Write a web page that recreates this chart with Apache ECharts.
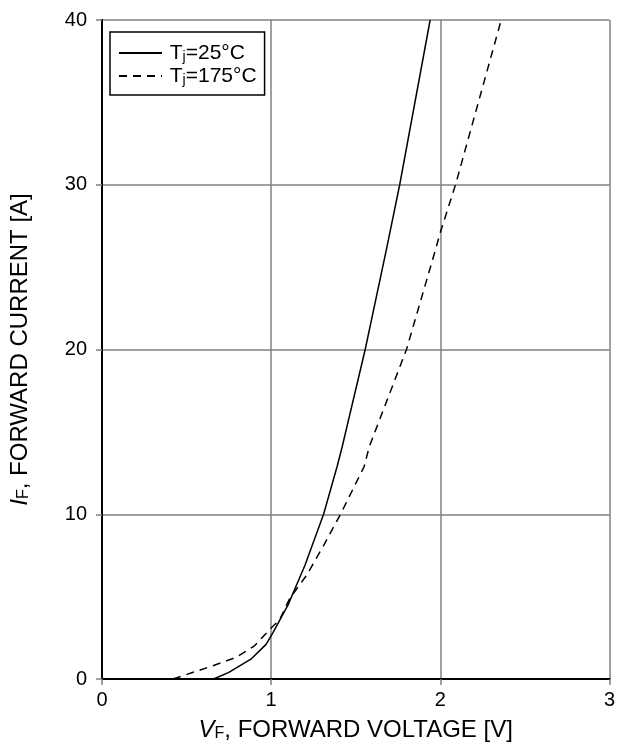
<!DOCTYPE html>
<html><head><meta charset="utf-8">
<script src="https://cdn.jsdelivr.net/npm/echarts@6/dist/echarts.min.js"></script>
<style>html,body{margin:0;padding:0;background:#fff}#c{width:618px;height:747px}</style>
</head><body><div id="c"></div>
<script>
const xTicks = [0, 1, 2, 3];
const yTicks = [0, 10, 20, 30, 40];
const vf25 = [0.66, 0.75, 0.88, 0.97, 1.01, 1.10, 1.20, 1.31, 1.39, 1.42, 1.556, 1.68, 1.76, 1.94];
const if25 = [0, 0.4, 1.2, 2.1, 2.8, 4.5, 6.9, 10, 12.9, 14.1, 20, 26, 30, 40];
const vf175 = [0.42, 0.64, 0.79, 0.90, 1.0, 1.05, 1.11, 1.21, 1.31, 1.41, 1.55, 1.58, 1.80, 1.97, 2.0, 2.09, 2.36];
const if175 = [0, 0.75, 1.3, 2.0, 3.1, 3.6, 4.9, 6.3, 8.1, 10, 12.9, 14.1, 20, 26, 27.1, 30, 40];
const seriesNames = ['Tj=25°C', 'Tj=175°C'];
const legendRich = {'Tj=25°C': '{p| }{a|T}{s|j}{a|=25°C}', 'Tj=175°C': '{p| }{a|T}{s|j}{a|=175°C}'};

const font = 'Liberation Sans, Arial, sans-serif';
const chart = echarts.init(document.getElementById('c'));
const pair = (xs, ys) => xs.map((x, i) => [x, ys[i]]);
const gridCol = '#808080';
const titleRich = {
  i: {fontFamily: font, fontSize: 24, fontStyle: 'italic', color: '#000'},
  s: {fontFamily: font, fontSize: 16, color: '#000', verticalAlign: 'bottom', padding: [8, 0, 0, 0]},
  n: {fontFamily: font, fontSize: 24, color: '#000'}
};
chart.setOption({
  animation: false,
  grid: {left: 100, right: 7, top: 20, bottom: 63, show: false},
  legend: {
    left: 110, top: 32, orient: 'vertical',
    data: seriesNames,
    borderColor: '#000', borderWidth: 1.5, borderRadius: 0,
    padding: [9, 8, 8, 8], itemGap: 0, itemWidth: 43, itemHeight: 22,
    itemStyle: {opacity: 0},
    formatter: n => legendRich[n],
    textStyle: {
      fontFamily: font, color: '#000',
      rich: {p: {fontSize: 10, lineHeight: 22, fontFamily: font},
             a: {fontSize: 21, lineHeight: 22, fontFamily: font, color: '#000'},
             s: {fontSize: 14, lineHeight: 22, fontFamily: font, color: '#000', verticalAlign: 'bottom', padding: [9, 0, 0, 0]}}
    }
  },
  xAxis: [{
    type: 'value', min: 0, max: 3, interval: 1,
    axisLine: {show: true, lineStyle: {color: '#000', width: 2}},
    axisTick: {show: true, length: 6, lineStyle: {color: gridCol, width: 1.5}},
    splitLine: {show: true, lineStyle: {color: gridCol, width: 1.5}},
    axisLabel: {fontFamily: font, fontSize: 20, color: '#000', margin: 11,
      formatter: v => xTicks.includes(v) ? String(v) : ''},
    name: '{i|V}{s|F}{n|, FORWARD VOLTAGE [V]}', nameLocation: 'middle', nameGap: 39,
    nameTextStyle: {rich: titleRich}
  }, {
    type: 'value', min: 0, max: 3, interval: 1, position: 'top',
    axisLine: {show: true, lineStyle: {color: '#000', width: 2}},
    axisTick: {show: false}, axisLabel: {show: false}, splitLine: {show: false}
  }],
  yAxis: [{
    type: 'value', min: 0, max: 40, interval: 10,
    axisLine: {show: true, lineStyle: {color: '#000', width: 2}},
    axisTick: {show: true, length: 6, lineStyle: {color: gridCol, width: 1.5}},
    splitLine: {show: true, lineStyle: {color: gridCol, width: 1.5}},
    axisLabel: {fontFamily: font, fontSize: 20, color: '#000', margin: 15,
      formatter: v => yTicks.includes(v) ? String(v) : ''},
    name: '{i|I}{s|F}{n|, FORWARD CURRENT [A]}', nameLocation: 'middle', nameGap: 70, nameRotate: 90,
    nameTextStyle: {rich: titleRich}
  }, {
    type: 'value', min: 0, max: 40, interval: 10, position: 'right',
    axisLine: {show: true, lineStyle: {color: '#000', width: 2}},
    axisTick: {show: false}, axisLabel: {show: false}, splitLine: {show: false}
  }],
  series: [{
    name: seriesNames[0], type: 'line', symbol: 'none', data: pair(vf25, if25),
    lineStyle: {color: '#000', width: 1.5, type: 'solid'}, itemStyle: {color: '#000'}, z: 5
  }, {
    name: seriesNames[1], type: 'line', symbol: 'none', data: pair(vf175, if175),
    lineStyle: {color: '#000', width: 1.5, type: [8, 6]}, itemStyle: {color: '#000'}, z: 5
  }]
});
</script></body></html>
